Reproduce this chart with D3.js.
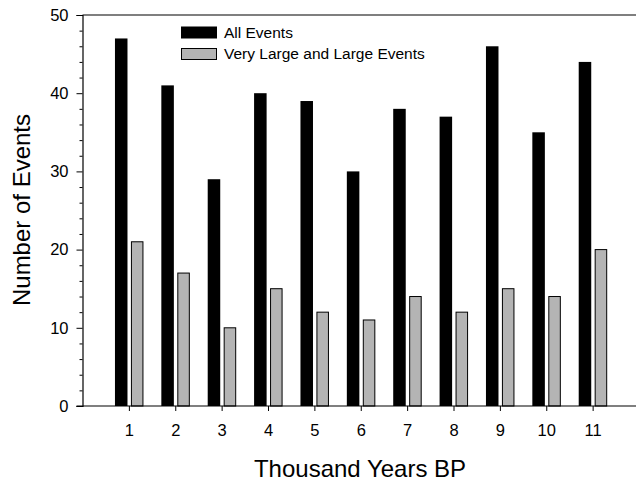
<!DOCTYPE html>
<html>
<head>
<meta charset="utf-8">
<script src="https://cdn.jsdelivr.net/npm/d3@7"></script>
<style>
  body { margin: 0; background: #fff; }
  text { font-family: "Liberation Sans", Arial, sans-serif; fill: #000; }
</style>
</head>
<body>
<svg width="636" height="483"></svg>
<script>
// Données
const periods = [1, 2, 3, 4, 5, 6, 7, 8, 9, 10, 11];
const allEvents = [47, 41, 29, 40, 39, 30, 38, 37, 46, 35, 44];
const largeEvents = [21, 17, 10, 15, 12, 11, 14, 12, 15, 14, 20];
const yTicks = [0, 10, 20, 30, 40, 50];
const seriesNames = ["All Events", "Very Large and Large Events"];
const seriesColors = ["#000000", "#b4b4b4"];

const svg = d3.select("svg");

const x = d3.scaleLinear().domain([0, 12]).range([82.5, 639]);
const y = d3.scaleLinear().domain([0, 50]).range([406, 15]);

const unit = x(1) - x(0);
const bw = unit * 0.27;

// Barres
const rows = periods.map((p, i) => ({ p, all: allEvents[i], large: largeEvents[i] }));

svg.selectAll(".bar-all")
    .data(rows)
    .enter()
    .append("rect")
    .attr("class", "bar-all")
    .attr("x", d => x(d.p) - unit * 0.03 - bw)
    .attr("y", d => y(d.all))
    .attr("width", bw)
    .attr("height", d => y(0) - y(d.all))
    .attr("fill", seriesColors[0]);

svg.selectAll(".bar-large")
    .data(rows)
    .enter()
    .append("rect")
    .attr("class", "bar-large")
    .attr("x", d => x(d.p) + unit * 0.055)
    .attr("y", d => y(d.large))
    .attr("width", bw - 1)
    .attr("height", d => y(0) - y(d.large))
    .attr("fill", seriesColors[1])
    .attr("stroke", "#000")
    .attr("stroke-width", 1);

// Axe Y
const yAxis = svg.append("g")
    .attr("transform", `translate(${x(0)},0)`)
    .call(d3.axisLeft(y).tickValues(yTicks).tickSize(6).tickPadding(8));
yAxis.select(".domain").attr("stroke-width", 1.2);
yAxis.selectAll("text").style("font-size", "16.5px");

svg.append("g")
    .attr("transform", `translate(${x(0)},0)`)
    .call(d3.axisLeft(y).tickValues(d3.range(0, 51, 2).filter(v => v % 10 !== 0)).tickSize(3).tickFormat(""))
    .call(g => g.select(".domain").remove());

// Axe X
const xAxis = svg.append("g")
    .attr("transform", `translate(0,${y(0)})`)
    .call(d3.axisBottom(x).tickValues(periods).tickSize(5).tickPadding(13).tickSizeOuter(0));
xAxis.select(".domain").attr("d", `M${x(0) - 6},0H636`).attr("stroke-width", 1.2);
xAxis.selectAll("text").style("font-size", "16.5px");

// Ligne du haut
svg.append("line")
    .attr("x1", x(0)).attr("x2", 636)
    .attr("y1", y(50)).attr("y2", y(50))
    .attr("stroke", "#000").attr("stroke-width", 1.2);

// Titres des axes
svg.append("text")
    .attr("x", 360).attr("y", 477)
    .attr("text-anchor", "middle")
    .style("font-size", "24px")
    .text("Thousand Years BP");

svg.append("text")
    .attr("transform", "translate(30,210) rotate(-90)")
    .attr("text-anchor", "middle")
    .style("font-size", "24px")
    .text("Number of Events");

// Légende
const legend = svg.append("g");
seriesNames.forEach((name, i) => {
    legend.append("rect")
        .attr("x", 181.5).attr("y", 27 + i * 21.5)
        .attr("width", 35).attr("height", 11)
        .attr("fill", seriesColors[i])
        .attr("stroke", "#000").attr("stroke-width", 1);
    legend.append("text")
        .attr("x", 224).attr("y", 37.5 + i * 21.5)
        .style("font-size", "15.5px")
        .text(name);
});
</script>
</body>
</html>
